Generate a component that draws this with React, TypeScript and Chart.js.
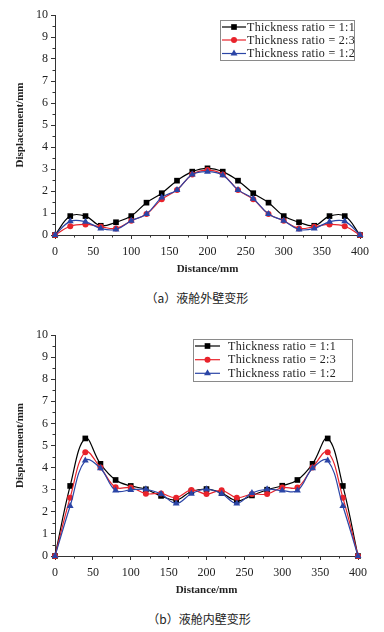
import React, { useEffect, useRef } from 'react';
import { Chart, registerables } from 'chart.js';

Chart.register(...registerables);

// ---------- data ----------
const distances = [0, 20, 40, 60, 80, 100, 120, 140, 160, 180, 200, 220, 240, 260, 280, 300, 320, 340, 360, 380, 400];

const outerRatio11 = [0, 0.86, 0.86, 0.42, 0.58, 0.86, 1.47, 1.9, 2.47, 2.88, 3.03, 2.88, 2.47, 1.9, 1.47, 0.86, 0.58, 0.42, 0.86, 0.86, 0];
const outerRatio23 = [0, 0.4, 0.48, 0.38, 0.3, 0.65, 0.95, 1.62, 2.05, 2.75, 2.95, 2.75, 2.05, 1.62, 0.95, 0.65, 0.3, 0.38, 0.48, 0.4, 0];
const outerRatio12 = [0, 0.62, 0.6, 0.3, 0.25, 0.65, 0.95, 1.7, 2.05, 2.75, 2.88, 2.72, 2.05, 1.65, 0.95, 0.65, 0.25, 0.3, 0.6, 0.62, 0];

const innerRatio11 = [0, 3.17, 5.32, 4.17, 3.44, 3.17, 3.02, 2.72, 2.53, 2.92, 3.03, 2.85, 2.5, 2.74, 3.0, 3.18, 3.44, 4.17, 5.32, 3.17, 0];
const innerRatio23 = [0, 2.64, 4.7, 4.0, 3.11, 3.1, 2.82, 2.83, 2.64, 2.99, 2.8, 2.97, 2.64, 2.8, 2.8, 3.1, 3.1, 4.0, 4.7, 2.64, 0];
const innerRatio12 = [0, 2.26, 4.32, 3.97, 2.96, 2.99, 3.02, 2.8, 2.38, 2.82, 3.02, 2.82, 2.38, 2.85, 3.02, 2.96, 2.96, 3.97, 4.32, 2.26, 0];

const seriesLabels = ['Thickness ratio = 1:1', 'Thickness ratio = 2:3', 'Thickness ratio = 1:2'];
const xTickValues = [0, 50, 100, 150, 200, 250, 300, 350, 400];
const xMinorTicks = [25, 75, 125, 175, 225, 275, 325, 375];
const yTickValues = [0, 1, 2, 3, 4, 5, 6, 7, 8, 9, 10];
const yMinorTicks = [0.5, 1.5, 2.5, 3.5, 4.5, 5.5, 6.5, 7.5, 8.5, 9.5];
const xTitle = 'Distance/mm';
const yTitle = 'Displacement/mm';
const captions = ['（a）液舱外壁变形', '（b）液舱内壁变形'];

// ---------- styles ----------
const seriesColors = ['#000000', '#e8232b', '#2b45a6'];
const seriesPoints = ['rect', 'circle', 'triangle'];
const seriesRadius = [4, 3, 4];
const axisColor = '#333333';
const textColor = '#222222';
const serif = '"Liberation Serif", "Times New Roman", serif';

const minorTickPlugin = {
  id: 'minorTicks',
  afterDraw(chart: any) {
    const { ctx, chartArea, scales } = chart;
    ctx.save();
    ctx.strokeStyle = axisColor;
    ctx.lineWidth = 1;
    ctx.beginPath();
    xMinorTicks.forEach((v) => {
      const px = Math.round(scales.x.getPixelForValue(v)) + 0.5;
      ctx.moveTo(px, chartArea.bottom);
      ctx.lineTo(px, chartArea.bottom + 2.5);
    });
    yMinorTicks.forEach((v) => {
      const py = Math.round(scales.y.getPixelForValue(v)) + 0.5;
      ctx.moveTo(chartArea.left, py);
      ctx.lineTo(chartArea.left - 2.5, py);
    });
    ctx.stroke();
    ctx.restore();
  },
};

function drawMarker(ctx: CanvasRenderingContext2D, style: string, x: number, y: number, r: number, color: string) {
  ctx.fillStyle = color;
  ctx.beginPath();
  if (style === 'rect') {
    const s = r * Math.SQRT1_2;
    ctx.rect(x - s, y - s, 2 * s, 2 * s);
  } else if (style === 'circle') {
    ctx.arc(x, y, r, 0, Math.PI * 2);
  } else {
    ctx.moveTo(x, y - r);
    ctx.lineTo(x + r * 0.866, y + r * 0.5);
    ctx.lineTo(x - r * 0.866, y + r * 0.5);
    ctx.closePath();
  }
  ctx.fill();
}

const boxLegendPlugin = {
  id: 'boxLegend',
  afterDraw(chart: any, _args: any, opts: any) {
    const { ctx } = chart;
    ctx.save();
    ctx.strokeStyle = '#8a8a8a';
    ctx.lineWidth = 1;
    ctx.strokeRect(opts.left + 0.5, opts.top + 0.5, opts.width, opts.height);
    ctx.font = `12px ${serif}`;
    (ctx as any).letterSpacing = '0.3px';
    ctx.textBaseline = 'middle';
    ctx.textAlign = 'left';
    chart.data.datasets.forEach((ds: any, i: number) => {
      const y = opts.rows[i];
      ctx.strokeStyle = ds.borderColor;
      ctx.lineWidth = 1.2;
      ctx.beginPath();
      ctx.moveTo(opts.lineStart, y);
      ctx.lineTo(opts.lineEnd, y);
      ctx.stroke();
      drawMarker(ctx, ds.pointStyle, (opts.lineStart + opts.lineEnd) / 2, y, ds.pointRadius, ds.backgroundColor);
      ctx.fillStyle = textColor;
      ctx.fillText(ds.label, opts.textX, y + 0.5);
    });
    ctx.restore();
  },
};

type PanelProps = {
  top: number;
  height: number;
  padRight: number;
  series: number[][];
  legend: any;
};

function ChartPanel({ top, height, padRight, series, legend }: PanelProps) {
  const ref = useRef<HTMLCanvasElement>(null);
  useEffect(() => {
    if (!ref.current) return;
    const tickFont = { family: serif, size: 12 };
    const titleFont = { family: serif, size: 11, weight: 'bold' as const };
    const chart = new Chart(ref.current, {
      type: 'line',
      data: {
        datasets: series.map((vals, i) => ({
          label: seriesLabels[i],
          data: distances.map((d, k) => ({ x: d, y: vals[k] })),
          borderColor: seriesColors[i],
          backgroundColor: seriesColors[i],
          pointStyle: seriesPoints[i] as any,
          pointRadius: seriesRadius[i],
          pointBorderWidth: 0,
          borderWidth: 1.2,
          tension: 0.4,
          clip: false as any,
          order: 3 - i,
        })),
      },
      options: {
        responsive: false,
        animation: false,
        maintainAspectRatio: false,
        events: [],
        layout: { padding: { left: 0, top: 15, right: padRight, bottom: 0 } },
        plugins: {
          legend: { display: false },
          tooltip: { enabled: false },
          boxLegend: legend,
        } as any,
        scales: {
          x: {
            type: 'linear',
            min: 0,
            max: 400,
            afterBuildTicks: (s: any) => {
              s.ticks = xTickValues.map((v) => ({ value: v }));
            },
            afterFit: (s: any) => {
              s.height = 45;
            },
            ticks: { font: tickFont, color: textColor, padding: 6, maxRotation: 0, autoSkip: false },
            grid: { display: true, drawOnChartArea: false, drawTicks: true, tickLength: 4, color: axisColor },
            border: { display: true, color: axisColor, width: 1 },
            title: { display: true, text: xTitle, font: titleFont, color: textColor, padding: { top: 0, bottom: 4 } },
          },
          y: {
            type: 'linear',
            min: 0,
            max: 10,
            afterBuildTicks: (s: any) => {
              s.ticks = yTickValues.map((v) => ({ value: v }));
            },
            afterFit: (s: any) => {
              s.width = 55;
            },
            ticks: { font: tickFont, color: textColor, padding: 3, autoSkip: false },
            grid: { display: true, drawOnChartArea: false, drawTicks: true, tickLength: 4, color: axisColor },
            border: { display: true, color: axisColor, width: 1 },
            title: { display: true, text: yTitle, font: titleFont, color: textColor, padding: { top: 14, bottom: 0 } },
          },
        },
      },
      plugins: [minorTickPlugin, boxLegendPlugin],
    });
    return () => chart.destroy();
  }, []);
  return (
    <canvas
      ref={ref}
      width={384}
      height={height}
      style={{ position: 'absolute', left: 0, top, width: 384, height }}
    />
  );
}

const captionStyle = (top: number, center: number): React.CSSProperties => ({
  position: 'absolute',
  top,
  left: center - 100,
  width: 200,
  textAlign: 'center',
  fontFamily: '"Noto Sans CJK SC", sans-serif',
  fontSize: 12,
  lineHeight: '16px',
  color: textColor,
});

export default function App() {
  return (
    <div style={{ position: 'absolute', left: 0, top: 0, width: 384, height: 632, background: '#ffffff', overflow: 'hidden' }}>
      <ChartPanel
        top={0}
        height={280}
        padRight={24}
        series={[outerRatio11, outerRatio23, outerRatio12]}
        legend={{ left: 220, top: 20, width: 134, height: 40, rows: [27, 40, 53.5], lineStart: 222, lineEnd: 246, textX: 247 }}
      />
      <div style={captionStyle(290, 197)}>{captions[0]}</div>
      <ChartPanel
        top={320}
        height={281}
        padRight={26}
        series={[innerRatio11, innerRatio23, innerRatio12]}
        legend={{ left: 193, top: 19, width: 159, height: 42, rows: [26, 39.7, 53.3], lineStart: 195, lineEnd: 220, textX: 228 }}
      />
      <div style={captionStyle(611, 199)}>{captions[1]}</div>
    </div>
  );
}
